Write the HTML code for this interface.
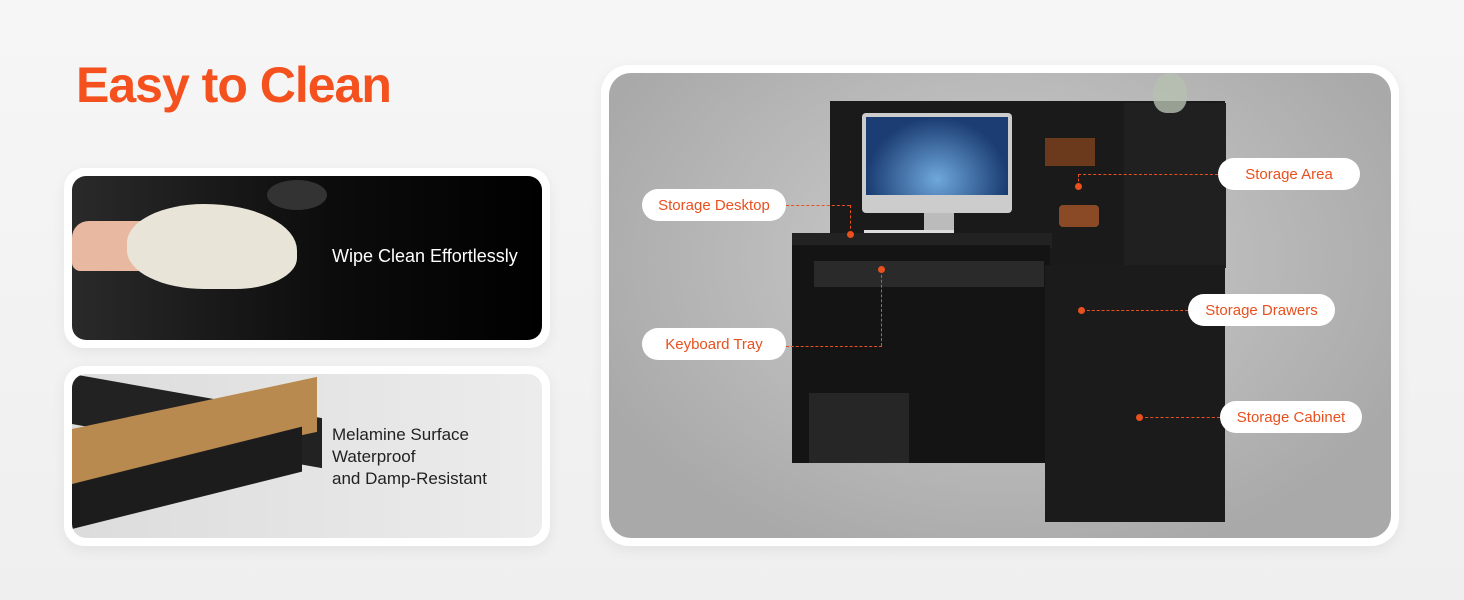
<!DOCTYPE html>
<html><head><meta charset="utf-8"><style>
*{margin:0;padding:0;box-sizing:border-box}
body{width:1464px;height:600px;overflow:hidden;background:linear-gradient(180deg,#f6f6f6,#efefef);font-family:"Liberation Sans",sans-serif;position:relative}
.a{position:absolute}
h1{position:absolute;left:76px;top:56px;font-size:50px;font-weight:bold;color:#f4511e;letter-spacing:-1px}
.frame{position:absolute;background:#fff;border-radius:20px;box-shadow:0 4px 14px rgba(0,0,0,.06)}
.pill{position:absolute;background:#fff;border-radius:16px;color:#e8501e;font-size:15px;height:32px;line-height:34px;text-align:center}
.dash{position:absolute;border-color:#e8501e;border-style:dashed;border-width:0}
.dot{position:absolute;width:7px;height:7px;border-radius:50%;background:#e8501e}
.blk{position:absolute;background:#141414}
</style></head><body>
<h1>Easy to Clean</h1>
<div class="frame" style="left:64px;top:168px;width:486px;height:180px"></div>
<div class="a" style="left:72px;top:176px;width:470px;height:164px;border-radius:14px;background:linear-gradient(90deg,#2a2a2a,#0c0c0c 55%,#000);overflow:hidden">
 <div class="a" style="left:0;top:45px;width:110px;height:50px;background:#e9b8a0;border-radius:20px 30px 30px 10px"></div>
 <div class="a" style="left:55px;top:28px;width:170px;height:85px;background:#e8e4d8;border-radius:50% 60% 40% 50%"></div>
 <div class="a" style="left:195px;top:4px;width:60px;height:30px;background:#333;border-radius:50%"></div>
 <div class="a" style="left:260px;top:70px;color:#fff;font-size:18px">Wipe Clean Effortlessly</div>
</div>
<div class="frame" style="left:64px;top:366px;width:486px;height:180px"></div>
<div class="a" style="left:72px;top:374px;width:470px;height:164px;border-radius:14px;background:linear-gradient(90deg,#dcdcdc,#ececec);overflow:hidden">
 <div class="a" style="left:0;top:0;width:250px;height:50px;background:#222;transform:skewY(10deg);transform-origin:0 0"></div>
 <div class="a" style="left:0;top:55px;width:245px;height:55px;background:#b98a4f;transform:skewY(-12deg);transform-origin:0 100%"></div>
 <div class="a" style="left:0;top:110px;width:230px;height:45px;background:#1c1c1c;transform:skewY(-14deg);transform-origin:0 100%"></div>
 <div class="a" style="left:260px;top:50px;color:#222;font-size:17px;line-height:22px">Melamine Surface<br>Waterproof<br>and Damp-Resistant</div>
</div>
<div class="frame" style="left:601px;top:65px;width:798px;height:481px;border-radius:28px"></div>
<div class="a" style="left:609px;top:73px;width:782px;height:465px;border-radius:22px;background:radial-gradient(ellipse at 50% 40%,#cfcfcf,#a9a9a9 80%);overflow:hidden">
 <div class="blk" style="left:221px;top:28px;width:395px;height:165px;background:#1a1a1a"></div>
 <div class="blk" style="left:515px;top:30px;width:102px;height:165px;background:#202020"></div>
 <div class="a" style="left:253px;top:40px;width:150px;height:100px;background:#ccc;border-radius:4px"></div>
 <div class="a" style="left:257px;top:44px;width:142px;height:78px;background:radial-gradient(ellipse at 50% 80%,#6fa8dc,#1b3d73 70%)"></div>
 <div class="a" style="left:315px;top:140px;width:30px;height:18px;background:#bbb"></div>
 <div class="a" style="left:255px;top:157px;width:90px;height:8px;background:#ddd"></div>
 <div class="a" style="left:436px;top:65px;width:50px;height:28px;background:#6b3a1c"></div>
 <div class="a" style="left:450px;top:132px;width:40px;height:22px;background:#8a4a25;border-radius:4px"></div>
 <div class="blk" style="left:183px;top:160px;width:260px;height:15px;background:#222"></div>
 <div class="blk" style="left:183px;top:172px;width:258px;height:218px"></div>
 <div class="blk" style="left:205px;top:188px;width:230px;height:26px;background:#2a2a2a"></div>
 <div class="blk" style="left:436px;top:192px;width:180px;height:257px;background:#1b1b1b"></div>
 <div class="blk" style="left:200px;top:320px;width:100px;height:70px;background:#262626"></div>
 <div class="a" style="left:544px;top:0;width:34px;height:40px;background:#b5c0b0;border-radius:50% 50% 40% 40%;opacity:.8"></div>
</div>
<div class="pill" style="left:642px;top:189px;width:144px">Storage Desktop</div>
<div class="dash" style="left:786px;top:205px;width:64px;border-top-width:1px"></div>
<div class="dash" style="left:850px;top:205px;height:29px;border-left-width:1px"></div>
<div class="dot" style="left:847px;top:231px"></div>
<div class="pill" style="left:642px;top:328px;width:144px">Keyboard Tray</div>
<div class="dash" style="left:786px;top:346px;width:96px;border-top-width:1px"></div>
<div class="dash" style="left:881px;top:270px;height:76px;border-left-width:1px"></div>
<div class="dot" style="left:878px;top:266px"></div>
<div class="pill" style="left:1218px;top:158px;width:142px">Storage Area</div>
<div class="dash" style="left:1078px;top:174px;width:140px;border-top-width:1px"></div>
<div class="dash" style="left:1078px;top:174px;height:12px;border-left-width:1px"></div>
<div class="dot" style="left:1075px;top:183px"></div>
<div class="pill" style="left:1188px;top:294px;width:147px">Storage Drawers</div>
<div class="dash" style="left:1082px;top:310px;width:106px;border-top-width:1px"></div>
<div class="dot" style="left:1078px;top:307px"></div>
<div class="pill" style="left:1220px;top:401px;width:142px">Storage Cabinet</div>
<div class="dash" style="left:1140px;top:417px;width:80px;border-top-width:1px"></div>
<div class="dot" style="left:1136px;top:414px"></div>
</body></html>
